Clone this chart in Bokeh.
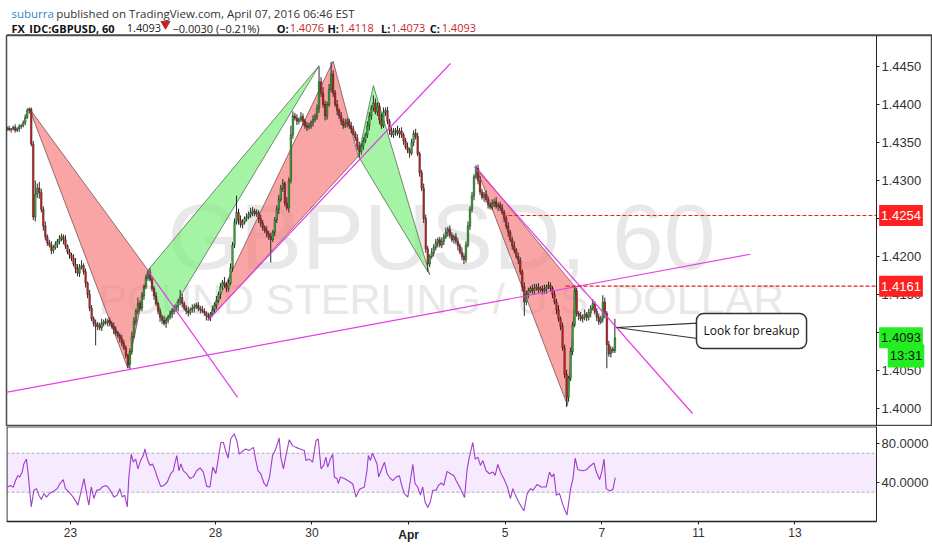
import numpy as np
from bokeh.plotting import figure
from bokeh.layouts import column
from bokeh.models import (Range1d, FixedTicker, NumeralTickFormatter, Label, BoxAnnotation,
                          LinearAxis)
from bokeh.core.properties import value
from bokeh.embed import file_html
from bokeh.resources import INLINE

# ---------------- data (hourly bars, first bar = Mar 21 16:00 EST) ----------------
BASE = 1.4000
PIP = 0.0001
FIRST_OPEN = 368
CLOSE_PIPS = [
    369,367,368,370,366,368,371,372,376,383,392,394,348,252,282,290,284,262,240,226,218,215,208,212,
    216,220,223,226,222,214,206,202,198,190,184,178,186,188,180,165,150,132,118,112,108,110,106,112,
    114,113,116,112,108,104,100,96,92,86,80,70,58,75,95,115,128,138,132,148,160,172,180,170,
    158,148,138,128,120,116,112,116,120,124,128,130,134,140,146,138,132,128,126,130,132,134,136,132,
    130,128,126,122,120,124,130,136,142,150,160,166,162,158,165,185,215,245,258,248,242,245,250,252,
    255,258,260,256,258,250,244,238,234,230,226,222,232,248,262,275,290,296,270,264,300,360,385,382,
    378,380,384,378,372,370,372,376,380,384,395,430,415,400,385,400,420,440,415,400,392,385,378,372,
    375,378,372,368,362,356,345,338,345,352,360,372,385,395,402,390,398,380,372,390,392,378,366,360,
    364,366,362,365,360,352,344,340,336,350,362,358,335,310,290,250,210,190,200,205,212,218,222,215,
    220,226,232,236,228,222,226,220,214,206,200,196,215,240,262,280,305,316,300,285,278,282,275,268,
    265,270,272,266,268,264,258,250,240,232,222,214,208,200,195,180,160,140,150,155,158,155,158,160,
    156,158,155,157,160,162,158,150,140,130,118,108,80,45,15,40,75,110,155,125,122,118,120,124,
    120,126,132,138,128,120,114,118,140,125,84,72,78,76,93,
]
WICK_UP = [
    2,3,1,2,4,2,3,2,3,4,3,2,2,4,18,6,8,5,4,6,3,4,5,3,
    4,3,5,4,3,6,2,4,3,5,8,6,4,7,3,4,2,6,4,3,5,4,3,6,
    3,5,2,4,3,5,4,2,3,5,4,3,2,4,6,5,3,8,4,5,3,4,2,5,
    4,3,5,2,4,3,6,4,3,5,4,6,3,4,10,5,3,4,6,3,5,4,3,4,
    3,5,4,2,4,3,5,4,6,4,5,3,7,4,5,6,4,5,22,5,6,4,3,5,
    4,6,5,3,4,3,5,4,3,6,4,5,3,4,5,6,4,6,3,8,4,12,6,4,
    5,3,6,4,3,5,4,3,6,4,5,20,6,8,5,4,7,16,5,4,6,3,5,4,
    6,4,3,5,4,3,5,6,4,5,3,6,5,4,10,6,5,4,8,6,4,5,3,4,
    5,3,6,4,5,3,4,6,3,5,4,6,5,3,4,6,5,4,3,6,4,5,3,4,
    5,4,6,3,5,4,3,5,4,3,6,4,5,6,4,5,3,4,5,6,4,3,5,4,
    3,5,4,6,3,4,5,3,4,5,3,4,6,3,5,4,3,6,5,4,3,5,6,4,
    5,3,4,6,3,5,4,3,5,4,6,3,5,4,6,3,5,4,7,4,3,5,4,6,
    3,5,4,6,3,4,5,4,9,6,3,5,4,3,25,
]
WICK_DN = [
    3,2,4,2,3,2,4,3,2,3,2,4,3,4,6,5,8,4,6,5,4,3,5,4,
    3,5,4,3,6,4,3,5,4,3,6,4,5,3,4,6,5,4,3,4,25,5,3,4,
    4,3,5,4,3,6,4,3,5,4,3,4,5,6,4,3,5,4,3,4,5,3,4,3,
    4,5,3,4,6,5,3,6,4,3,5,4,3,6,4,5,3,4,5,3,4,6,3,4,
    5,3,4,6,4,5,3,4,5,3,6,4,3,5,4,3,5,4,3,6,4,5,3,4,
    3,4,5,3,4,6,5,4,3,5,4,30,3,5,4,6,3,5,4,3,6,4,5,3,
    5,4,3,6,4,5,3,4,5,3,4,6,5,4,6,5,3,4,5,3,6,4,5,4,
    3,5,4,6,3,4,5,8,4,5,3,4,6,5,4,3,5,6,4,3,5,4,6,3,
    4,5,3,6,4,5,3,4,6,3,5,4,3,5,4,6,5,10,4,3,5,4,6,3,
    4,5,3,6,4,3,5,4,6,3,5,6,4,3,5,4,6,3,5,4,3,6,4,5,
    3,4,5,3,6,4,3,5,4,6,3,5,4,3,5,4,6,18,4,5,3,4,5,3,
    4,3,5,4,6,3,4,5,3,6,4,5,4,5,13,6,4,5,3,4,6,3,5,4,
    5,4,6,3,4,5,4,3,5,6,31,4,5,3,3,
]

RSI_BAR = [0,1.7,3,4.2,5.3,6.3,7.5,8.3,9.6,10.3,12,13.3,14.6,15.8,17,18.3,19.6,21.2,23.2,24.9,26.2,27.9,29,30.7,
           32.9,35.2,36.5,38.2,39.5,40.6,41.8,43.1,44.5,46.1,47.3,49,50.1,51.4,53.1,54.7,56,57.2,58.4,59.7,60.5,
           61.7,62.7,63.9,65,66.3,67.7,68.5,69.7,71,72.2,73.3,74.6,76.3,78,79.6,81.3,82.6,83.3,84.3,85.4,86.3,
           87.6,89.2,90.9,92.6,94.2,95.9,97.5,99.2,100.8,102.2,103.7,104.8,106.2,107.5,108.8,109.8,111.1,112.8,
           114.1,115.4,116.9,118.6,120.2,122.4,123.6,124.7,126,127.7,129,130.4,131.9,133.5,135.2,136,137.3,138.7,
           140.2,141.8,143.5,145.6,147.7,148.5,150.1,151.8,153.5,154.6,156,157.3,158.4,159.3,160.6,161.8,162.6,
           163.9,164.6,165.6,167.6,170,171.7,173.4,175,177.5,178.8,179.5,180.5,181.5,182.8,183.8,184.6,185.8,
           187.5,188.8,189.9,191.6,193.3,194.9,196.1,197.4,199.1,200.4,201.6,202.7,204,205.4,206.5,207.7,209,
           210.3,211.5,213.2,214.3,215.7,217,218.6,220.3,222,223.1,225.3,227.3,228.6,229.7,231.4,232.6,233.9,
           235.2,236.4,238,239.7,241.4,242.5,243.8,245.5,246.8,248.5,250.1,251.3,253,254.6,256.8,258.4,260.1,
           261.3,263.4,265.4,267.9,269.5,270.7,271.7,272.9,274.5,276.2,278.2,280,281.2,282.3,283.6,286.1,287.8,
           289.4,291.6,292.8,294.4,295.6,296.6,297.7,299.4,301,302.2]
RSI_VAL = [35,37,35,42,47,45.6,50.7,59,64,52,15,32,33.7,27,22.5,28.6,25,29,31,33.7,38.8,42.9,33.7,30.3,
           25,16.8,28.6,44,28.6,16.8,35.4,23.6,32,32.7,35.4,37,35.4,31.4,25,27,33.7,25,27,15,45.6,
           69,61,64,54,62.5,67.6,74.4,64,57.5,59,54,45.6,36,37,40.5,49,52,59,67.6,52,59,
           52,49,44,46,52,55,50.7,36,35.4,55.8,49,62.5,81,81,71,65,84.6,90,
           83,69,72,74.4,72.7,76,62.5,52,49,39,36,45.6,67.6,74.4,85.6,66,54,69,
           83.7,77.8,76,74.4,72.7,62.5,64,60.8,83,84.6,54,57.5,66,55.8,64,69,45.6,
           44,38.8,45.6,44,41,38.8,25,32.7,35.4,52,67.6,62.5,70,64,59,45.6,52,
           60.8,49,45.6,42,45.6,47,37,28.6,25,42,58.5,38.8,35.4,27,35.4,20,14.4,
           20,32,32,37,39.5,37,51.4,49,47,42,33.7,24.6,54,66,81,64,66,
           57.5,62.5,52,49,50.7,47.3,58.5,49,44,36,23.6,33.7,25,18.4,11,28.6,33.7,
           32,38,35.4,35.4,50.7,45.6,49,27,28.6,16.8,6.6,33.7,44,65,53,52,53,
           56.4,60,50.7,43,52,64,33.7,31.4,32.7,45]

# harmonic pattern vertices (bar index, price)
RED_PATTERNS = [([11, 60, 70], [1.4395, 1.4053, 1.4182]),
                ([100, 162, 174.5], [1.4116, 1.4457, 1.4332]),
                ([233, 278.5, 282.5], [1.4318, 1.4004, 1.4159])]
GREEN_PATTERNS = [([70, 78, 155], [1.4182, 1.4112, 1.4451]),
                  ([174.5, 182, 210], [1.4332, 1.4425, 1.4176])]
# magenta trend lines (hours from first bar, price)
TREND_LINES = [([-0.3, 369.9], [1.4021, 1.4203]),
               ([70.3, 115.0], [1.4182, 1.40145]),
               ([100.1, 220.8], [1.4116, 1.4454]),
               ([232.7, 341.1], [1.4318, 1.39934])]
LEVELS = [1.4254, 1.4161]
LEVEL_START = [249.6, 278.0]
CALLOUT_TIP = (303.3, 1.41066)
CALLOUT_BASE = (343.5, 1.41122, 1.40921)
CALLOUT_CENTER = (370.4, 1.4102)
CALLOUT_TEXT = "Look for breakup"

DAY_TICKS = [32, 104, 152, 200, 248, 296, 344, 392]
DAY_LABELS = ["23", "28", "30", "Apr", "5", "7", "11", "13"]
PRICE_TICKS = [1.4000, 1.4050, 1.4100, 1.4150, 1.4200, 1.4250, 1.4300, 1.4350, 1.4400, 1.4450]
RSI_TICKS = [40, 80]
RSI_BAND = (30, 70)
COUNTDOWN = "13:31"

HEADER1 = [("suburra", 5, "#2f86c6", "normal"),
           ("published on TradingView.com, April 07, 2016 06:46 EST", 50, "#333333", "normal")]
HEADER2 = [("FX_IDC:GBPUSD, 60", 5, "#111111", "bold"),
           ("1.4093", 121, "#222222", "normal"),
           ("\u22120.0030 (\u22120.21%)", 167, "#222222", "normal"),
           ("O:", 272, "#111111", "bold"), ("1.4076", 285, "#c62a2a", "normal"),
           ("H:", 323, "#111111", "bold"), ("1.4118", 335, "#c62a2a", "normal"),
           ("L:", 377, "#111111", "bold"), ("1.4073", 387, "#c62a2a", "normal"),
           ("C:", 426, "#111111", "bold"), ("1.4093", 438, "#c62a2a", "normal")]

# ---------------- derived candle arrays ----------------
close_p = np.array(CLOSE_PIPS, float)
open_p = np.r_[FIRST_OPEN, close_p[:-1]]
high_p = np.maximum(open_p, close_p) + np.array(WICK_UP)
low_p = np.minimum(open_p, close_p) - np.array(WICK_DN)
bx = np.arange(len(close_p)) + 0.5
o = BASE + open_p * PIP
c = BASE + close_p * PIP
h = BASE + high_p * PIP
l = BASE + low_p * PIP
up = c >= o
body_col = np.where(up, "#33bb33", "#d42020")

FONT = "Liberation Sans"
HFONT = "Open Sans"

# geometry: chart area 870 px wide, price scale 56 px to its right
PX_PER_HOUR = 2.0125
X0 = 0.2
T_AXIS = X0 + 870 / PX_PER_HOUR
xr = Range1d(X0, X0 + 926 / PX_PER_HOUR)

# ---------------- header ----------------
hdr = figure(width=932, height=35, x_range=Range1d(0, 932), y_range=Range1d(35, 0),
             toolbar_location=None, output_backend="svg", x_axis_location=None,
             y_axis_location=None, min_border=0)
hdr.outline_line_color = None
hdr.grid.visible = False
for txt, xx, col, sty in HEADER1:
    hdr.text(x=[xx], y=[13], text=[txt], text_font=value(HFONT), text_font_size="11.5px",
             text_color=col, text_font_style=sty, text_baseline="alphabetic")
for txt, xx, col, sty in HEADER2:
    hdr.text(x=[xx], y=[27.5], text=[txt], text_font=value(HFONT), text_font_size="11px",
             text_color=col, text_font_style=sty, text_baseline="alphabetic")
hdr.scatter(x=[160], y=[23.5], marker="inverted_triangle", size=9, color="#c62020")
hdr.segment(x0=[0], y0=[34.4], x1=[932], y1=[34.4], line_width=1.5, color="#4a4a4a")

# ---------------- main price panel ----------------
p = figure(frame_width=926, frame_height=391, x_range=xr, y_range=Range1d(1.39763, 1.44908),
           y_axis_location=None, x_axis_location=None, toolbar_location=None,
           output_backend="svg", min_border_left=6, min_border_right=0,
           min_border_top=0, min_border_bottom=0)
p.grid.visible = False
p.outline_line_color = "#4a4a4a"
p.outline_line_width = 1.5
p.background_fill_color = "white"

xmid = (X0 + T_AXIS) / 2
p.text(x=[xmid], y=[1.4225], text=["GBPUSD, 60"], text_font=value(FONT), text_font_size="93px",
       text_color="#e8e8e8", text_align="center", text_baseline="alphabetic")
p.text(x=[xmid], y=[1.41447], text=["POUND STERLING / U.S. DOLLAR"], text_font=value(FONT),
       text_font_size="43px", text_color="#e8e8e8", text_align="center", text_baseline="alphabetic")

for ks, ys in RED_PATTERNS:
    p.patch([k + 0.5 for k in ks], ys, fill_color="#f77f7f", fill_alpha=0.7,
            line_color="#8a6060", line_alpha=0.9, line_width=1)
for ks, ys in GREEN_PATTERNS:
    p.patch([k + 0.5 for k in ks], ys, fill_color="#7fef7f", fill_alpha=0.7,
            line_color="#5f7f5f", line_alpha=0.9, line_width=1)

p.segment(x0=bx, y0=h, x1=bx, y1=l, color="#2a2a2a", line_width=1)
p.vbar(x=bx, width=0.8, top=np.maximum(o, c), bottom=np.minimum(o, c),
       fill_color=body_col, line_color="#1a1a1a", line_width=0.4)

for xs, ys in TREND_LINES:
    p.line(xs, ys, color="#e63ce6", line_width=1.2)

p.segment(x0=LEVEL_START, y0=LEVELS, x1=[T_AXIS] * len(LEVELS), y1=LEVELS,
          color="#e82020", line_dash="4 2", line_width=1.1)

# callout
p.patch([CALLOUT_TIP[0], CALLOUT_BASE[0], CALLOUT_BASE[0]],
        [CALLOUT_TIP[1], CALLOUT_BASE[1], CALLOUT_BASE[2]],
        fill_color="white", line_color="#333333", line_width=1.2)
p.add_layout(Label(x=CALLOUT_CENTER[0], y=CALLOUT_CENTER[1], text=CALLOUT_TEXT,
                   text_align="center", text_baseline="middle", text_font=HFONT,
                   text_font_size="12px", text_color="#111111",
                   background_fill_color="white", border_line_color="#333333",
                   border_line_width=1.5, border_radius=7, padding=(7, 9)))

pax = LinearAxis(fixed_location=T_AXIS, ticker=FixedTicker(ticks=PRICE_TICKS),
                 formatter=NumeralTickFormatter(format="0.0000"))
pax.major_label_text_font = FONT
pax.major_label_text_font_size = "13px"
pax.major_label_text_color = "#333333"
pax.axis_line_color = "#222222"
pax.major_tick_line_color = "#222222"
pax.major_tick_out = 3
pax.major_tick_in = 0
pax.minor_tick_line_color = None
pax.major_label_standoff = 2
p.add_layout(pax, "right")

tag_x = X0 + (900.5 - 6) / PX_PER_HOUR
for lvl in LEVELS:
    p.add_layout(Label(x=tag_x, y=lvl, text=f"{lvl:.4f}", text_align="center",
                       text_baseline="middle", text_color="white", text_font=FONT,
                       text_font_size="13px", background_fill_color="#ff2020", padding=(2, 6)))
last = c[-1]
p.add_layout(Label(x=tag_x, y=last, text=f"{last:.4f}", text_align="center",
                   text_baseline="middle", text_color="#111111", text_font=FONT,
                   text_font_size="13px", background_fill_color="#22ee22", padding=(2, 6)))
p.add_layout(Label(x=tag_x + 2.5, y=last - 0.00238, text=COUNTDOWN, text_align="center",
                   text_baseline="middle", text_color="#111111", text_font=FONT,
                   text_font_size="13px", background_fill_color="#22ee22", padding=(2, 4)))

# ---------------- RSI panel (with date strip) ----------------
RSI_TOP = 97.4
r = figure(frame_width=926, frame_height=123, x_range=xr, y_range=Range1d(-28.7, RSI_TOP),
           y_axis_location=None, x_axis_location=None, toolbar_location=None,
           output_backend="svg", min_border_left=6, min_border_right=0,
           min_border_top=0, min_border_bottom=0)
r.grid.visible = False
r.outline_line_color = None
r.add_layout(BoxAnnotation(bottom=RSI_BAND[0], top=RSI_BAND[1], left=X0, right=T_AXIS,
                           fill_color="#9915ff", fill_alpha=0.09, line_color=None))
r.segment(x0=[X0, X0], y0=list(RSI_BAND), x1=[T_AXIS, T_AXIS], y1=list(RSI_BAND),
          color="#b5b5b5", line_dash="3 2", line_width=1)
r.segment(x0=[X0 + 0.2, X0], y0=[0, RSI_TOP - 0.3], x1=[X0 + 0.2, T_AXIS], y1=[RSI_TOP, RSI_TOP - 0.3],
          color="#4a4a4a", line_width=1.5)
r.line([b + 0.5 for b in RSI_BAR], RSI_VAL, color="#a040c8", line_width=1.1)

ry = LinearAxis(fixed_location=T_AXIS, ticker=FixedTicker(ticks=RSI_TICKS),
                formatter=NumeralTickFormatter(format="0.0000"), bounds=(0, RSI_TOP))
ry.major_label_text_font = FONT
ry.major_label_text_font_size = "13px"
ry.major_label_text_color = "#333333"
ry.axis_line_color = "#222222"
ry.major_tick_line_color = "#222222"
ry.major_tick_out = 3
ry.major_tick_in = 0
ry.minor_tick_line_color = None
ry.major_label_standoff = 2
r.add_layout(ry, "right")

rx = LinearAxis(fixed_location=0, ticker=FixedTicker(ticks=DAY_TICKS), bounds=(X0, T_AXIS))
rx.major_label_overrides = {t: ("" if lab == "Apr" else lab) for t, lab in zip(DAY_TICKS, DAY_LABELS)}
rx.major_label_text_font = FONT
rx.major_label_text_font_size = "12px"
rx.major_label_text_color = "#333333"
rx.axis_line_color = "#222222"
rx.axis_line_width = 1.5
rx.major_tick_line_color = "#222222"
rx.major_tick_out = 3
rx.major_tick_in = 0
rx.minor_tick_line_color = None
rx.major_label_standoff = 3
r.add_layout(rx, "below")
for t, lab in zip(DAY_TICKS, DAY_LABELS):
    if lab == "Apr":
        r.add_layout(Label(x=t, y=-6.2, text=lab, text_align="center", text_baseline="top",
                           text_font=FONT, text_font_size="12px", text_font_style="bold",
                           text_color="#222222"))

layout = column(hdr, p, r, spacing=0)
open("out.html", "w").write(file_html(layout, INLINE))
